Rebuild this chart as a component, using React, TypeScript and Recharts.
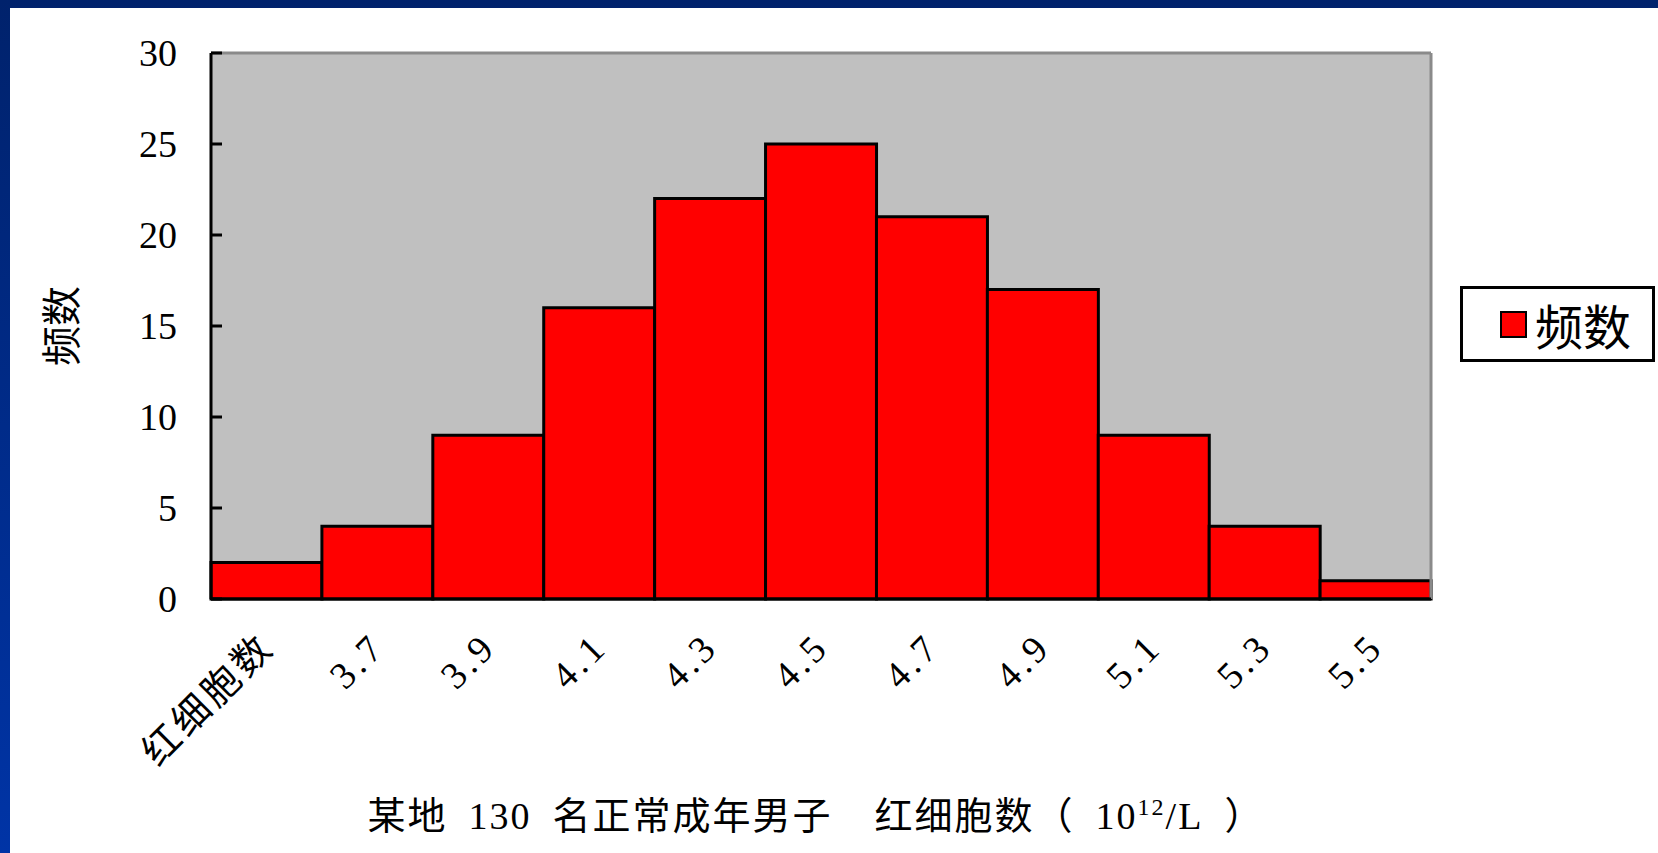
import { BarChart, Bar, XAxis, YAxis, CartesianGrid, ReferenceLine } from 'recharts';

const categories = ['红细胞数', '3.7', '3.9', '4.1', '4.3', '4.5', '4.7', '4.9', '5.1', '5.3', '5.5'];
const counts = [2, 4, 9, 16, 22, 25, 21, 17, 9, 4, 1];
const yTicks = [0, 5, 10, 15, 20, 25, 30];
const seriesName = '频数';

const data = categories.map((name, i) => ({ name, count: counts[i] }));

const FONT = "'Liberation Serif', 'Noto Sans CJK SC', serif";
const SP = '\u2002';
const Y_TICK_MARGIN = 34;

const XTick = (props: any) => {
  const { x, y, payload } = props;
  const ax = x + 10;
  const ay = y + 48;
  return (
    <text
      x={ax}
      y={ay}
      transform={`rotate(-45, ${ax}, ${ay})`}
      textAnchor="end"
      fontSize={38}
      fontFamily={FONT}
      fill="#000"
      letterSpacing={4}
    >
      {payload.value}
    </text>
  );
};

// label left of the axis, tick mark pointing into the plot
const YTick = (props: any) => {
  const { x, y, payload } = props;
  const axisX = x + Y_TICK_MARGIN;
  return (
    <g>
      <line x1={axisX} x2={axisX + 11} y1={y} y2={y} stroke="#000" strokeWidth={3} />
      <text x={x} y={y} dy="0.355em" textAnchor="end" fontSize={38} fontFamily={FONT} fill="#000">
        {payload.value}
      </text>
    </g>
  );
};

const LegendBox = () => (
  <div
    style={{
      position: 'absolute',
      left: 1460,
      top: 286,
      width: 195,
      height: 76,
      boxSizing: 'border-box',
      border: '3px solid #000',
      background: '#fff',
      display: 'flex',
      alignItems: 'center',
      paddingLeft: 37,
      fontFamily: FONT,
      fontSize: 48,
    }}
  >
    <span
      style={{
        display: 'inline-block',
        width: 27,
        height: 27,
        boxSizing: 'border-box',
        background: '#ff0000',
        border: '2px solid #000',
        marginRight: 8,
      }}
    />
    <span>{seriesName}</span>
  </div>
);

export default function App() {
  return (
    <div
      style={{
        position: 'relative',
        width: 1658,
        height: 853,
        background: 'linear-gradient(to bottom, #00226c, #0034a6)',
        overflow: 'hidden',
      }}
    >
      <style>{'body{margin:0}'}</style>
      <div style={{ position: 'absolute', left: 10, top: 8, right: 0, bottom: 0, background: '#fff' }} />
      <div style={{ position: 'absolute', left: 0, top: 0 }}>
        <BarChart
          width={1658}
          height={853}
          data={data}
          barCategoryGap={0}
          margin={{ top: 53, right: 227, bottom: 0, left: 0 }}
        >
          <CartesianGrid horizontal={false} vertical={false} fill="#c0c0c0" />
          <ReferenceLine y={30} stroke="#8a8a8a" strokeWidth={3} />
          <ReferenceLine x="5.5" position="end" stroke="#8a8a8a" strokeWidth={3} />
          <Bar
            dataKey="count"
            name={seriesName}
            fill="#ff0000"
            stroke="#000"
            strokeWidth={3}
            isAnimationActive={false}
          />
          <XAxis
            dataKey="name"
            height={254}
            interval={0}
            tickLine={false}
            tickSize={0}
            tick={<XTick />}
            axisLine={{ stroke: '#000', strokeWidth: 3 }}
          />
          <YAxis
            width={211}
            domain={[0, 30]}
            ticks={yTicks}
            interval={0}
            tickLine={false}
            tickSize={0}
            tickMargin={Y_TICK_MARGIN}
            tick={<YTick />}
            axisLine={{ stroke: '#000', strokeWidth: 3 }}
            label={{
              value: seriesName,
              angle: -90,
              position: 'insideLeft',
              offset: 62,
              style: { fontSize: 40, fontFamily: FONT, fill: '#000', textAnchor: 'middle' },
            }}
          />
        </BarChart>
      </div>
      <LegendBox />
      <div
        style={{
          position: 'absolute',
          left: 816,
          top: 785,
          transform: 'translateX(-50%)',
          fontFamily: FONT,
          fontSize: 38,
          letterSpacing: 2,
          whiteSpace: 'pre',
          lineHeight: '44px',
        }}
      >
        {`某地${SP}130${SP}名正常成年男子${SP}${SP}红细胞数（${SP}10`}
        <sup style={{ fontSize: 24 }}>12</sup>
        {`/L${SP}）`}
      </div>
    </div>
  );
}
